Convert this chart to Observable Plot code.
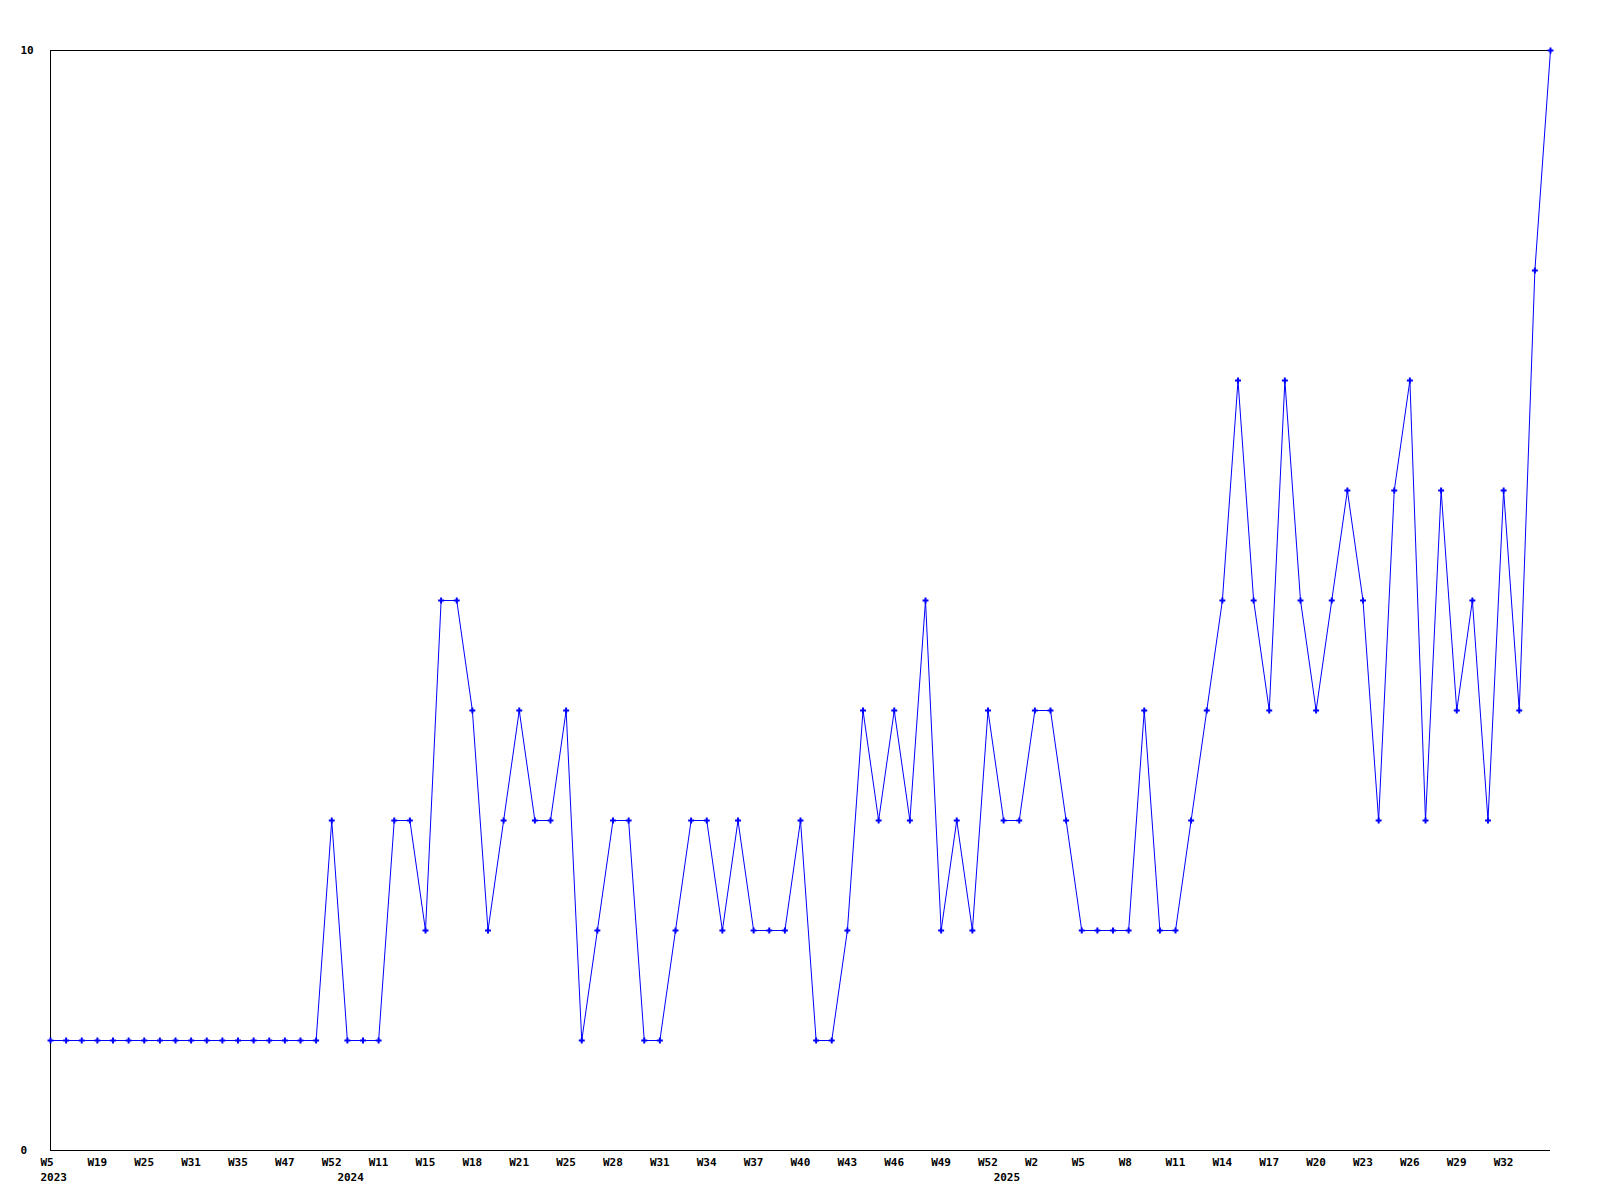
<!DOCTYPE html>
<html>
<head>
<meta charset="utf-8">
<script src="https://cdn.jsdelivr.net/npm/d3@7"></script>
<script src="https://cdn.jsdelivr.net/npm/@observablehq/plot@0.6"></script>
<style>
  html, body { margin: 0; padding: 0; background: #ffffff; }
  #chart svg { display: block; }
</style>
</head>
<body>
<div id="chart"></div>
<script>
// Weekly counts, one value per plotted week (97 weeks)
const values = [
  1,1,1,1,1,1,1,1,1,1,1,1,1,1,1,1,1,1,
  3,1,1,1,3,3,2,5,5,4,
  2,3,4,3,3,4,1,2,3,3,
  1,1,2,3,3,2,3,2,2,2,
  3,1,1,2,4,3,4,3,5,2,
  3,2,4,3,3,4,4,3,2,2,
  2,2,4,2,2,3,4,5,7,5,
  4,7,5,4,5,6,5,3,6,7,
  3,6,4,5,3,6,4,8,10
];

// Labelled weeks (index into values) and their labels
const tickIndex = [0,3,6,9,12,15,18,21,24,27,30,33,36,39,42,45,48,51,54,57,60,63,66,69,72,75,78,81,84,87,90,93];
const tickWeeks = ["W5","W19","W25","W31","W35","W47","W52","W11","W15","W18","W21","W25","W28","W31","W34","W37","W40","W43","W46","W49","W52","W2","W5","W8","W11","W14","W17","W20","W23","W26","W29","W32"];

// First week of each year
const yearIndex = [0,19,61];
const yearLabels = ["2023","2024","2025"];

// Y axis labels
const yTicks = [0, 10];

const weekOf = new Map(tickIndex.map((t, k) => [t, tickWeeks[k]]));
const yearOf = new Map(yearIndex.map((t, k) => [t, yearLabels[k]]));
const rows = values.map((v, i) => ({i, v}));

const chart = Plot.plot({
  width: 1600,
  height: 1200,
  marginTop: 50,
  marginLeft: 50,
  marginRight: 50,
  marginBottom: 50,
  style: {
    fontFamily: "'DejaVu Sans Mono', monospace",
    fontSize: "11px",
    fontWeight: "bold",
    background: "#ffffff",
    color: "#000000",
    overflow: "visible"
  },
  x: {type: "linear", domain: [0, values.length - 1]},
  y: {type: "linear", domain: [0, 10]},
  marks: [
    Plot.ruleY([0], {stroke: "#000000", strokeWidth: 1}),
    Plot.ruleY([10], {stroke: "#000000", strokeWidth: 1}),
    Plot.ruleX([0], {stroke: "#000000", strokeWidth: 1}),
    Plot.axisY({ticks: yTicks, tickSize: 0, tickPadding: 30, textAnchor: "start", tickFormat: d => String(d), label: null}),
    Plot.axisX({ticks: tickIndex, tickSize: 0, tickPadding: 8, textAnchor: "start", dx: -10, tickFormat: d => weekOf.get(d), label: null}),
    Plot.axisX({ticks: yearIndex, tickSize: 0, tickPadding: 23, textAnchor: "start", dx: -10, tickFormat: d => yearOf.get(d), label: null}),
    Plot.line(rows, {x: "i", y: "v", stroke: "#0000ff", strokeWidth: 1}),
    Plot.dot(rows, {x: "i", y: "v", symbol: "cross", r: 2.5, fill: "#0000ff", stroke: "none"})
  ]
});

document.getElementById("chart").appendChild(chart);
</script>
</body>
</html>
